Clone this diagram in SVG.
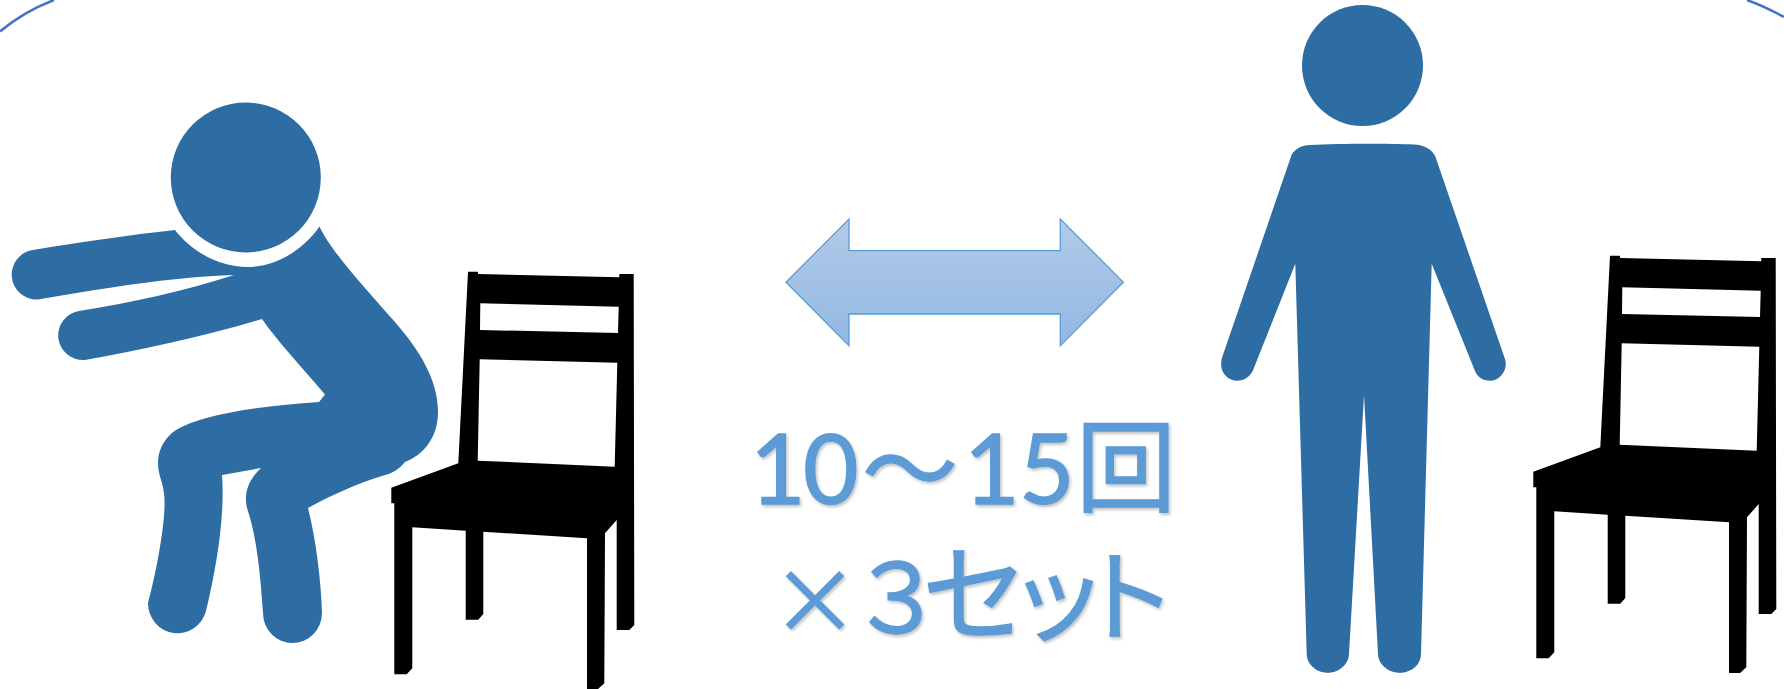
<svg xmlns="http://www.w3.org/2000/svg" width="1784" height="689" viewBox="0 0 1784 689">
<style>
.person{fill:#2e6da4}
.chair{fill:#000;fill-rule:evenodd}
.corner{fill:none;stroke:#4472c4;stroke-width:2.5}
.label{font-family:"Lato","Noto Sans CJK JP",sans-serif;font-size:96px;fill:#5b9bd5;stroke:#5b9bd5;stroke-width:1.3px;filter:url(#shadow)}
.jp{font-family:"Noto Sans CJK JP",sans-serif}
</style>
<defs>
<linearGradient id="arrowFill" x1="0" y1="0" x2="0" y2="1">
<stop offset="0" stop-color="#b1cbe9"/><stop offset="1" stop-color="#92b8e2"/>
</linearGradient>
<filter id="shadow" x="-5%" y="-10%" width="110%" height="120%">
<feDropShadow dx="1.5" dy="2" stdDeviation="1.5" flood-color="#000" flood-opacity="0.25"/>
</filter>
<path id="chairShape" class="chair" d="M468 271.7H477.7L478.3 274L619.3 277.3V274H633.7L634.3 625L629.3 630H616.7V520L605 533.3L604.3 683.3L598 689H587V538.3L483.3 531.7V614L478.3 619.7H465.7V530.7L412.3 527.3V668.3L406.7 674.3H394.3V503.3H391.3V487.7L458.3 463.3ZM480.3 303.3L618.7 306.7L618 333L480 330ZM479.7 359.3L617.3 362.7L614.7 466.7L477.7 460.7Z"/>
</defs>
<rect width="1784" height="689" fill="#fff"/>
<g id="frame-corners">
<path class="corner" d="M0 31.5C16 18 33 8 54 0"/>
<path class="corner" d="M1747 0C1761 5 1773 11 1784 17"/>
</g>
<g id="squatting-person">
<circle class="person" cx="245.8" cy="177.5" r="75"/>
<path class="person" d="M319.5 226.5C330 250 365 288 395 322C420 351 438 380 438 412C438 438 423 455 405 462C398 470 393 473 385 475C355 484 330 496 308 508C316 540 321 580 322 613A29.5 30 0 0 1 263 613C261 585 258 540 247 508C243 492 250 478 261 468L222 475C225 515 217 565 206 611A29.5 30 0 0 1 148 603C157 570 167 515 164 494C163 482 158 475 158 463C158 450 164 440 172 433C195 415 260 406 319 402L325 394.5C300 365 278 342 262 319C205 336 145 349 85 360A24.700 24.700 0 0 1 79 311C130 303 185 291 234 275C170 277 100 289 38 299.500A24.900 24.900 0 0 1 33 250C80 242 130 235 175 230C192 252 220 267 247 267C276 267 303 250 319.500 226.500Z"/>
</g>
<use id="chair-left" href="#chairShape"/>
<g id="connectors">
<path d="M786 282.300L849 219V250.700H1060.300V219L1123.300 282.300L1060.300 345.700V314H849V345.700Z" fill="url(#arrowFill)" stroke="#5b9bd5" stroke-width="1.300"/>
</g>
<g id="repeat-label">
<text class="label" y="504"><tspan x="750">1</tspan><tspan x="803">0</tspan><tspan class="jp" x="862">～</tspan><tspan x="964">1</tspan><tspan x="1019">5</tspan><tspan class="jp" x="1076" font-size="100">回</tspan></text>
<text class="label jp" y="633"><tspan x="771" font-size="88">×</tspan><tspan x="849">３</tspan><tspan x="922" font-size="106">セ</tspan><tspan x="1008" font-size="100">ッ</tspan><tspan x="1077" font-size="100">ト</tspan></text>
</g>
<g id="standing-person">
<circle class="person" cx="1362.500" cy="65.500" r="60.500"/>
<path class="person" d="M1291.700 154.600C1296 148 1302 145.500 1310 145C1340 143.500 1385 143.500 1414 144.500C1424 145 1431 149 1435 155.500L1505.300 360C1508 371 1499 381 1490 380.800C1482 380.800 1477 376 1475 371L1431.700 263.700L1421 653.700C1421 665 1411 672.700 1400 672.700C1388 672.700 1378 664 1378 653.700L1364 395L1349 653.700C1349 664 1339 672.700 1328 672.700C1316 672.700 1306.700 664 1306.700 653.700L1295.300 263.700L1252.700 371C1250 376 1245 380.800 1237 380.800C1228 380.800 1218 372 1222 357.800Z"/>
</g>
<use id="chair-right" href="#chairShape" x="1142" y="-16"/>
</svg>
